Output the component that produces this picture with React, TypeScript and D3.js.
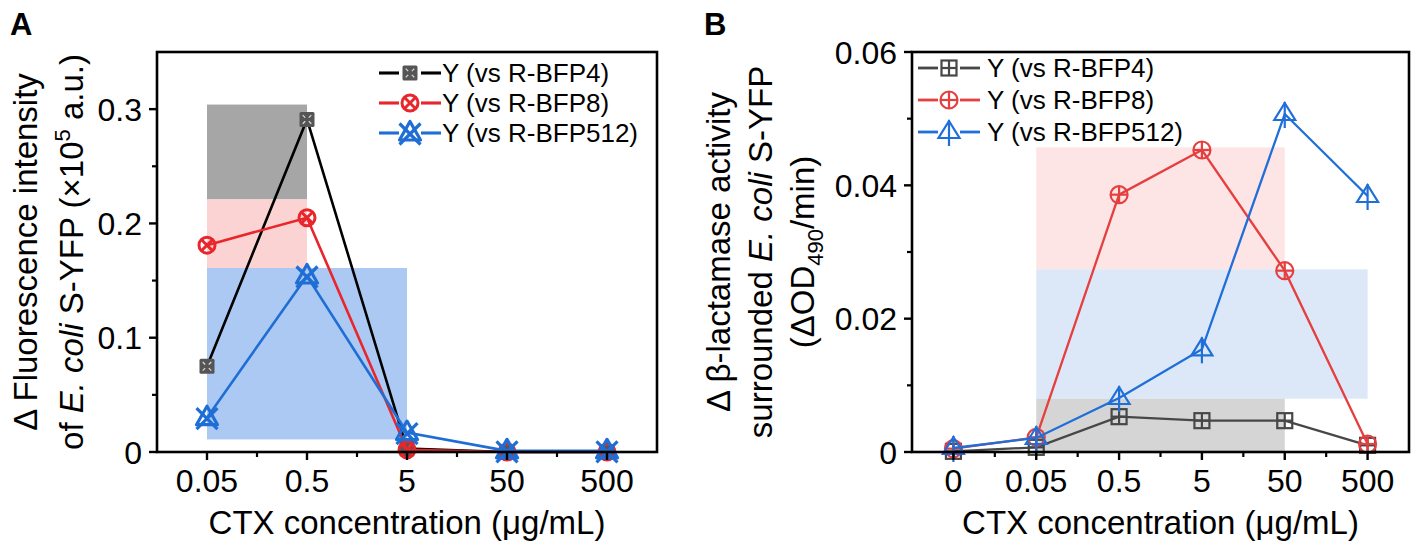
import * as d3 from 'd3';

// ---- data ----
const SERIES = ['R-BFP4', 'R-BFP8', 'R-BFP512'];

const catsA = ['0.05', '0.5', '5', '50', '500'];
const fluorBFP4 = [0.075, 0.291, 0.003, 0, 0];
const fluorBFP8 = [0.181, 0.205, 0.002, 0, 0];
const fluorBFP512 = [0.03, 0.154, 0.017, 0.001, 0.001];
const ticksA = [0, 0.1, 0.2, 0.3];
const minorA = [0.05, 0.15, 0.25];

const catsB = ['0', '0.05', '0.5', '5', '50', '500'];
const lactBFP4 = [0.0001, 0.0007, 0.0053, 0.0047, 0.0047, 0.001];
const lactBFP8 = [0.0005, 0.0022, 0.0386, 0.0453, 0.0272, 0.0012];
const lactBFP512 = [0.0006, 0.0021, 0.0081, 0.0154, 0.0507, 0.0384];
const ticksB = [0, 0.02, 0.04, 0.06];
const minorB = [0.01, 0.03, 0.05];

// shaded ranges: series, start category, end category, low, high
const bandsA = [
  { series: 'R-BFP4', start: '0.05', end: '0.5', low: 0.221, high: 0.304 },
  { series: 'R-BFP8', start: '0.05', end: '0.5', low: 0.161, high: 0.221 },
  { series: 'R-BFP512', start: '0.05', end: '5', low: 0.011, high: 0.161 },
];
const bandsB = [
  { series: 'R-BFP8', start: '0.05', end: '50', low: 0.0274, high: 0.0457 },
  { series: 'R-BFP512', start: '0.05', end: '500', low: 0.008, high: 0.0274 },
  { series: 'R-BFP4', start: '0.05', end: '50', low: 0, high: 0.008 },
];

// ---- styles ----
const FONT = '"Liberation Sans", Arial, Helvetica, sans-serif';
const lineA: Record<string, string> = { 'R-BFP4': '#000000', 'R-BFP8': '#e8262b', 'R-BFP512': '#1f6ed6' };
const bandA: Record<string, string> = { 'R-BFP4': '#a6a6a6', 'R-BFP8': '#fcd3d3', 'R-BFP512': '#abc9f2' };
const lineB: Record<string, string> = { 'R-BFP4': '#474747', 'R-BFP8': '#e53f3f', 'R-BFP512': '#1f6fd8' };
const bandB: Record<string, string> = { 'R-BFP4': '#d5d5d5', 'R-BFP8': '#fde5e5', 'R-BFP512': '#dce8f8' };

type MarkerKind = 'sqX' | 'circX' | 'triX' | 'sqPlus' | 'circPlus' | 'triLine';

function Marker({ kind, x, y, color }: { kind: MarkerKind; x: number; y: number; color: string }) {
  const t = `translate(${x},${y})`;
  if (kind === 'sqX') {
    return (
      <g transform={t}>
        <rect x={-7.5} y={-7.5} width={15} height={15} rx={1.5} fill="#555555" />
        {[[-1, -1], [1, -1], [1, 1], [-1, 1]].map(([sx, sy], i) => (
          <line key={i} x1={sx * 1.8} y1={sy * 1.8} x2={sx * 4.3} y2={sy * 4.3} stroke="#d9d9d9" strokeWidth={1.2} />
        ))}
      </g>
    );
  }
  if (kind === 'circX') {
    return (
      <g transform={t} fill="none" stroke={color} strokeWidth={3}>
        <circle r={8} />
        <line x1={-5.7} y1={-5.7} x2={5.7} y2={5.7} />
        <line x1={5.7} y1={-5.7} x2={-5.7} y2={5.7} />
      </g>
    );
  }
  if (kind === 'triX') {
    return (
      <g transform={t} fill="none" stroke={color} strokeWidth={3.2} strokeLinejoin="round">
        <path d="M0,-11.5 L10.5,7 L-10.5,7 Z" />
        <line x1={-10.5} y1={-9.5} x2={10.5} y2={11.5} />
        <line x1={10.5} y1={-9.5} x2={-10.5} y2={11.5} />
      </g>
    );
  }
  if (kind === 'sqPlus') {
    return (
      <g transform={t} fill="none" stroke={color} strokeWidth={2.2}>
        <rect x={-7.5} y={-7.5} width={15} height={15} />
        <line x1={0} y1={-7.5} x2={0} y2={7.5} />
        <line x1={-7.5} y1={0} x2={7.5} y2={0} />
      </g>
    );
  }
  if (kind === 'circPlus') {
    return (
      <g transform={t} fill="none" stroke={color} strokeWidth={2.2}>
        <circle r={8.5} />
        <line x1={0} y1={-8.5} x2={0} y2={8.5} />
        <line x1={-8.5} y1={0} x2={8.5} y2={0} />
      </g>
    );
  }
  return (
    <g transform={t} fill="none" stroke={color} strokeWidth={2.2} strokeLinejoin="miter">
      <path d="M0,-11 L10.5,6 L-10.5,6 Z" />
      <line x1={0} y1={-12} x2={0} y2={14} />
    </g>
  );
}

interface PanelProps {
  letter: string;
  cats: string[];
  series: number[][];
  bands: { series: string; start: string; end: string; low: number; high: number }[];
  bandColor: Record<string, string>;
  lineColor: Record<string, string>;
  markers: MarkerKind[];
  yMax: number;
  ticks: number[];
  minor: number[];
  fmt: (v: number) => string;
  left: number;
  right: number;
  lineW: number;
  legendX: number;
  legendY: number;
  legendRow: number;
  legendGap: number;
  yLabel: JSX.Element[];
  yLabelX: number[];
}

function Panel(p: PanelProps) {
  const top = 52;
  const bottom = 452;
  const x = d3.scalePoint<string>().domain(p.cats).range([p.left, p.right]).padding(0.5);
  const y = d3.scaleLinear().domain([0, p.yMax]).range([bottom, top]);
  const step = x.step();
  const line = d3.line<number>().x((_, i) => x(p.cats[i])!).y(d => y(d));
  const midX = (p.left + p.right) / 2;
  const midY = (top + bottom) / 2;

  return (
    <g>
      <text x={p.letter === 'A' ? 10 : 704} y={35} fontSize={31} fontWeight="bold" fontFamily={FONT}>{p.letter}</text>

      {p.bands.map((b, i) => (
        <rect key={i} x={x(b.start)} y={y(b.high)} width={x(b.end)! - x(b.start)!} height={y(b.low) - y(b.high)}
          fill={p.bandColor[b.series]} />
      ))}

      {p.series.map((vals, si) => (
        <g key={si}>
          <path d={line(vals)!} fill="none" stroke={p.lineColor[SERIES[si]]} strokeWidth={p.lineW} />
          {vals.map((v, i) => (
            <Marker key={i} kind={p.markers[si]} x={x(p.cats[i])!} y={y(v)} color={p.lineColor[SERIES[si]]} />
          ))}
        </g>
      ))}

      {/* frame */}
      <rect x={p.left} y={top} width={p.right - p.left} height={bottom - top} fill="none" stroke="#000" strokeWidth={2.6} />

      {/* x ticks */}
      {p.cats.map(c => (
        <g key={c}>
          <line x1={x(c)} x2={x(c)} y1={bottom} y2={bottom + 8} stroke="#000" strokeWidth={2.4} />
          <text x={x(c)} y={492} textAnchor="middle" fontSize={32} fontFamily={FONT}>{c}</text>
        </g>
      ))}
      {p.cats.slice(1).map(c => (
        <line key={'m' + c} x1={x(c)! - step / 2} x2={x(c)! - step / 2} y1={bottom} y2={bottom + 5} stroke="#000" strokeWidth={2.2} />
      ))}
      <text x={midX} y={534} textAnchor="middle" fontSize={33} fontFamily={FONT}>CTX concentration (μg/mL)</text>

      {/* y ticks */}
      {p.ticks.map(t => (
        <g key={t}>
          <line x1={p.left - 8} x2={p.left} y1={y(t)} y2={y(t)} stroke="#000" strokeWidth={2.4} />
          <text x={p.left - 15} y={y(t)} dy="0.36em" textAnchor="end" fontSize={32} fontFamily={FONT}>{p.fmt(t)}</text>
        </g>
      ))}
      {p.minor.map(t => (
        <line key={'m' + t} x1={p.left - 5} x2={p.left} y1={y(t)} y2={y(t)} stroke="#000" strokeWidth={2.2} />
      ))}

      {p.yLabel.map((el, i) => (
        <text key={i} transform={`translate(${p.yLabelX[i]},${midY}) rotate(-90)`} textAnchor="middle" fontSize={33} fontFamily={FONT}>
          {el}
        </text>
      ))}

      {/* legend */}
      {SERIES.map((s, i) => {
        const cy = p.legendY + i * p.legendRow;
        const lx = p.legendX;
        return (
          <g key={s}>
            <line x1={lx} x2={lx + 20} y1={cy} y2={cy} stroke={p.lineColor[s]} strokeWidth={p.lineW + 0.5} />
            <line x1={lx + 42} x2={lx + 62} y1={cy} y2={cy} stroke={p.lineColor[s]} strokeWidth={p.lineW + 0.5} />
            <Marker kind={p.markers[i]} x={lx + 31} y={cy} color={p.lineColor[s]} />
            <text x={lx + 62 + p.legendGap} y={cy} dy="0.36em" fontSize={26} fontFamily={FONT}>{`Y (vs ${s})`}</text>
          </g>
        );
      })}
    </g>
  );
}

export default function App() {
  return (
    <svg width={1417} height={550} style={{ position: 'absolute', left: 0, top: 0, background: '#fff' }}>
      <Panel
        letter="A"
        cats={catsA}
        series={[fluorBFP4, fluorBFP8, fluorBFP512]}
        bands={bandsA}
        bandColor={bandA}
        lineColor={lineA}
        markers={['sqX', 'circX', 'triX']}
        yMax={0.35}
        ticks={ticksA}
        minor={minorA}
        fmt={v => (v === 0 ? '0' : d3.format('.1f')(v))}
        left={157}
        right={657}
        lineW={2.6}
        legendX={379}
        legendY={73}
        legendRow={30}
        legendGap={1}
        yLabel={[
          <>Δ Fluorescence intensity</>,
          <>of <tspan fontStyle="italic">E. coli</tspan> S-YFP (×10<tspan dy={-13} fontSize={22}>5</tspan><tspan dy={13}> a.u.)</tspan></>,
        ]}
        yLabelX={[37, 83]}
      />
      <Panel
        letter="B"
        cats={catsB}
        series={[lactBFP4, lactBFP8, lactBFP512]}
        bands={bandsB}
        bandColor={bandB}
        lineColor={lineB}
        markers={['sqPlus', 'circPlus', 'triLine']}
        yMax={0.06}
        ticks={ticksB}
        minor={minorB}
        fmt={v => (v === 0 ? '0' : d3.format('.2f')(v))}
        left={912}
        right={1409}
        lineW={2.3}
        legendX={918}
        legendY={68}
        legendRow={32}
        legendGap={7}
        yLabel={[
          <>Δ β-lactamase activity</>,
          <>surrounded <tspan fontStyle="italic">E. coli</tspan> S-YFP</>,
          <>(ΔOD<tspan dy={9} fontSize={22}>490</tspan><tspan dy={-9}>/min)</tspan></>,
        ]}
        yLabelX={[730, 772, 814]}
      />
    </svg>
  );
}
